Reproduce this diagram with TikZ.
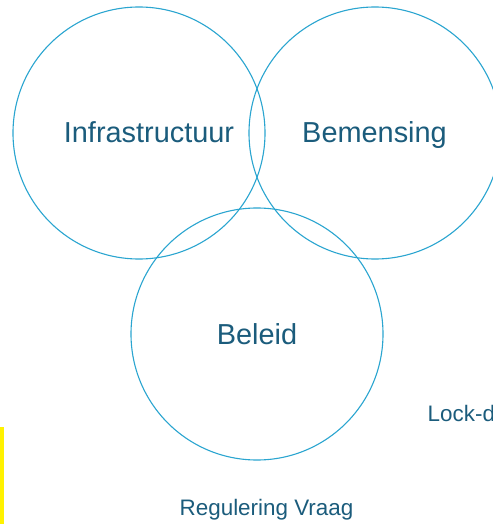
\documentclass[tikz,border=0pt]{standalone}
\usepackage{fontspec}
\setmainfont{Liberation Sans}
\definecolor{ringblue}{HTML}{2AA5D0}
\definecolor{labelblue}{HTML}{1B5C7C}
\begin{document}
\begin{tikzpicture}[x=1bp,y=-1bp,line join=bevel,
  ring/.style={draw=ringblue,line width=1.1bp,circle,inner sep=0pt,minimum size=252bp},
  biglabel/.style={text=labelblue,inner sep=0pt,font=\fontsize{29}{34}\selectfont},
  smalllabel/.style={text=labelblue,inner sep=0pt,font=\fontsize{22.5}{27}\selectfont}]
%%
\clip (0,0) rectangle (493,524);
\fill[white] (0,0) rectangle (493,524);
  \node (node_0) at (139,133) [ring] {};
  \node (node_1) at (375,133) [ring] {};
  \node (node_2) at (257,334) [ring] {};
  \node (node_3) at (149,143) [biglabel,anchor=base] {Infrastructuur};
  \node (node_4) at (374.5,143) [biglabel,anchor=base] {Bemensing};
  \node (node_5) at (257,344) [biglabel,anchor=base] {Beleid};
  \node (node_6) at (266.5,515) [smalllabel,anchor=base] {Regulering Vraag};
  \node (node_7) at (427.5,421) [smalllabel,anchor=base west] {Lock-d};
  \fill[yellow] (0,427) rectangle (4,524);
%
\end{tikzpicture}
\end{document}
